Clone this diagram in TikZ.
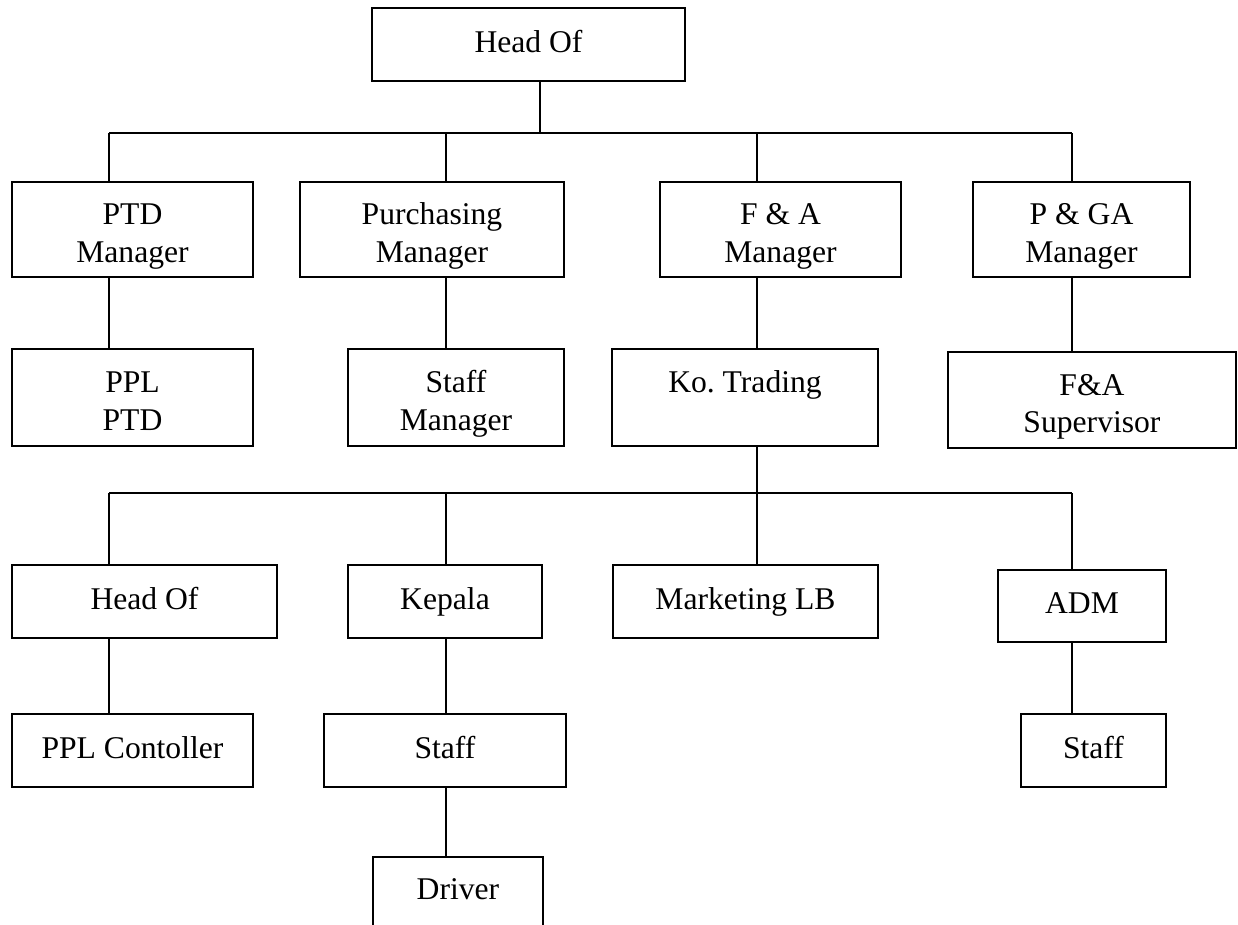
\documentclass[tikz,border=0pt]{standalone}
\usepackage{fontspec}
\setmainfont{Liberation Serif}
\usetikzlibrary{positioning}

\tikzset{
  orgbox/.style={draw, line width=0.7pt, inner sep=0pt, align=center,
    font=\fontsize{18}{21.6}\selectfont,
    execute at begin node=\strut, execute at end node=\strut},
  twoline/.style={orgbox, text height=44pt, text depth=6.5pt},
  link/.style={line width=0.7pt}
}

\begin{document}
\begin{tikzpicture}[x=0.02cm, y=-0.02cm]
    \useasboundingbox (0,0) rectangle (1238,924);

    % top
    \node[orgbox, minimum width=6.26cm, minimum height=1.46cm] (head) at (528.5,44.5) {Head Of};

    % managers
    \node[twoline, minimum width=4.82cm, minimum height=1.9cm] (ptd) at (132.5,229.5) {PTD\\Manager};
    \node[twoline, minimum width=5.28cm, minimum height=1.9cm] (purch) at (432,229.5) {Purchasing\\Manager};
    \node[twoline, minimum width=4.82cm, minimum height=1.9cm] (fa) at (780.5,229.5) {F \& A\\Manager};
    \node[twoline, minimum width=4.34cm, minimum height=1.9cm] (pga) at (1081.5,229.5) {P \& GA\\Manager};

    \node[twoline, minimum width=4.82cm, minimum height=1.94cm] (pplptd) at (132.5,397.5) {PPL\\PTD};
    \node[twoline, minimum width=4.32cm, minimum height=1.94cm] (staffmgr) at (456,397.5) {Staff\\Manager};
    \node[twoline, minimum width=5.32cm, minimum height=1.94cm] (trading) at (745,397.5) {Ko.\ Trading\\};
    \node[twoline, minimum width=5.76cm, minimum height=1.92cm] (superv) at (1092,400) {F\&A\\Supervisor};

    % under Ko. Trading
    \node[orgbox, minimum width=5.3cm, minimum height=1.46cm] (headof) at (144.5,601.5) {Head Of};
    \node[orgbox, minimum width=3.88cm, minimum height=1.46cm] (kepala) at (445,601.5) {Kepala};
    \node[orgbox, minimum width=5.3cm, minimum height=1.46cm] (mktg) at (745.5,601.5) {Marketing LB};
    \node[orgbox, minimum width=3.36cm, minimum height=1.44cm] (adm) at (1082,606) {ADM};

    \node[orgbox, minimum width=4.82cm, minimum height=1.46cm] (pplctl) at (132.5,750.5) {PPL Contoller};
    \node[orgbox, minimum width=4.84cm, minimum height=1.46cm] (staff) at (445,750.5) {Staff};
    \node[orgbox, minimum width=2.9cm, minimum height=1.46cm] (admstaff) at (1093.5,750.5) {Staff};
    \node[orgbox, minimum width=3.4cm, minimum height=1.4cm] (driver) at (458,892) {Driver};

    % bus lines
    \coordinate (hub) at (540,133);
    \coordinate (c1) at (109,133);
    \coordinate (c2) at (446,133);
    \coordinate (c3) at (757,133);
    \coordinate (c4) at (1072,133);
    \coordinate (d1) at (109,493);
    \coordinate (d2) at (446,493);
    \coordinate (d3) at (757,493);
    \coordinate (d4) at (1072,493);

    \draw[link] (head.south -| hub) -- (hub);
    \draw[link] (c1) -- (c4);
    \foreach \n/\c in {ptd/c1, purch/c2, fa/c3, pga/c4}
      \draw[link] (\c) -- (\c |- \n.north);

    \draw[link] (ptd.south -| c1) -- (c1 |- pplptd.north);
    \draw[link] (purch.south -| c2) -- (c2 |- staffmgr.north);
    \draw[link] (fa.south -| c3) -- (c3 |- trading.north);
    \draw[link] (pga.south -| c4) -- (c4 |- superv.north);

    \draw[link] (trading.south -| d3) -- (d3 |- mktg.north);
    \draw[link] (d1) -- (d4);
    \foreach \n/\c in {headof/d1, kepala/d2, adm/d4}
      \draw[link] (\c) -- (\c |- \n.north);

    \draw[link] (headof.south -| d1) -- (d1 |- pplctl.north);
    \draw[link] (kepala.south -| d2) -- (d2 |- staff.north);
    \draw[link] (adm.south -| d4) -- (d4 |- admstaff.north);
    \draw[link] (staff.south -| d2) -- (d2 |- driver.north);
\end{tikzpicture}
\end{document}
